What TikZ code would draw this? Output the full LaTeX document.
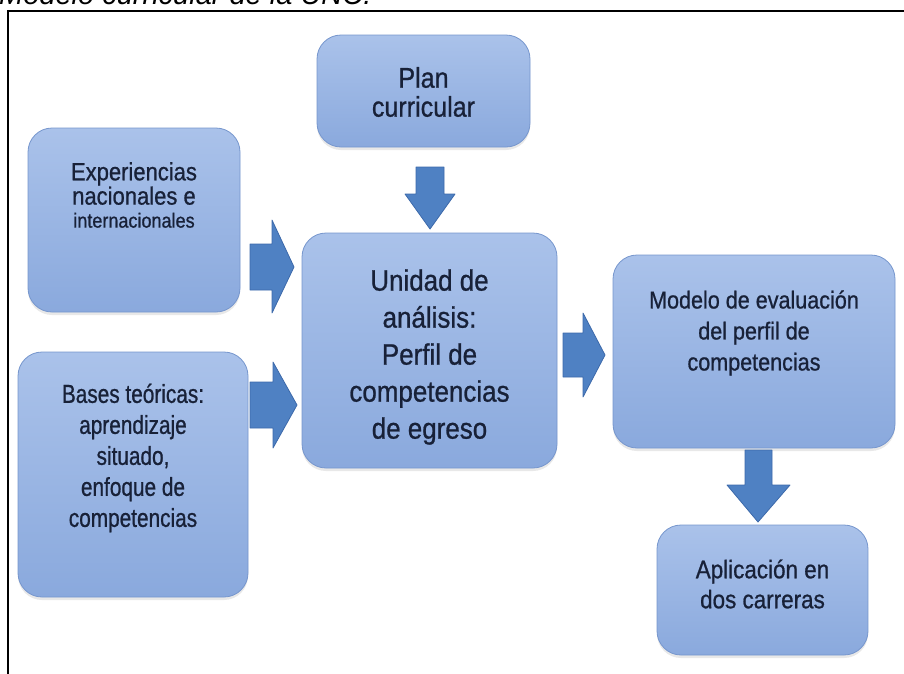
\documentclass[tikz,border=0pt]{standalone}
\usepackage{fontspec}
\setmainfont{Liberation Sans}[FakeStretch=0.88,FakeBold=0.8]
\newfontfamily\narrowfont{Liberation Sans}[FakeStretch=0.8,FakeBold=0.8]
\newfontfamily\capfont{Liberation Sans}
\usetikzlibrary{shadows}

\definecolor{boxtop}{RGB}{170,194,234}
\definecolor{boxbot}{RGB}{138,169,221}
\definecolor{boxedge}{RGB}{118,150,205}
\definecolor{arrowfill}{RGB}{79,129,195}
\definecolor{arrowedge}{RGB}{60,105,170}
\definecolor{txtcol}{RGB}{24,33,56}

\begin{document}
\begin{tikzpicture}[x=1pt,y=-1pt,
    box/.style={draw=boxedge,line width=0.8pt,rounded corners=24pt,
      top color=boxtop,bottom color=boxbot,
      drop shadow={shadow xshift=0pt,shadow yshift=-3pt,opacity=0.18,fill=gray}},
    lbl/.style={align=center,text=txtcol,inner sep=0pt},
    barrow/.style={fill=arrowfill,draw=arrowedge,line width=0.8pt,line join=round}]
        \useasboundingbox (0,0) rectangle (904,673);
        \clip (0,0) rectangle (904,673);

        % caption, cut at the top
        \node[anchor=base west,inner sep=0pt,font=\capfont\itshape\fontsize{29}{30}\selectfont] (titulo) at (-1,4) {Modelo curricular de la UNC.};
        \draw[line width=2pt] (8,690) -- (8,11) -- (920,11);

        % boxes
        \node[box,minimum width=213pt,minimum height=112pt] (plan) at (423.5,91) {};
        \node[box,minimum width=212pt,minimum height=184pt] (exp) at (134,220) {};
        \node[box,minimum width=230pt,minimum height=245pt] (bases) at (133,474.5) {};
        \node[box,minimum width=255pt,minimum height=235pt] (unidad) at (429.5,350.5) {};
        \node[box,minimum width=282pt,minimum height=193pt] (modelo) at (754,351.5) {};
        \node[box,minimum width=211pt,minimum height=130pt] (aplic) at (762.5,590) {};

        % texts
        \node[lbl,font=\fontsize{28.5}{29}\selectfont] (plantxt) at (423.5,92) {Plan\\curricular};
        \node[lbl,font=\fontsize{25}{23}\selectfont] (exptxt) at (134,195) {Experiencias\\nacionales e\\{\fontsize{20.5}{21}\selectfont internacionales}};
        \node[lbl,font=\narrowfont\fontsize{26}{31}\selectfont] (basestxt) at (133,458) {Bases teóricas:\\aprendizaje\\situado,\\enfoque de\\competencias};
        \node[lbl,font=\fontsize{29.5}{37}\selectfont] (unidadtxt) at (429.5,357) {Unidad de\\análisis:\\Perfil de\\competencias\\de egreso};
        \node[lbl,font=\fontsize{24.5}{31}\selectfont] (modelotxt) at (754,333) {Modelo de evaluación\\del perfil de\\competencias};
        \node[lbl,font=\fontsize{25.5}{30}\selectfont] (aplictxt) at (762.5,584) {Aplicación en\\dos carreras};

        % block arrows
        \draw[barrow] (416,167) -- (444,167) -- (444,194) -- (455,194) -- (430,229) -- (405,194) -- (416,194) -- cycle;
        \draw[barrow] (250,244) -- (272,244) -- (272,220) -- (294,267) -- (272,313) -- (272,290) -- (250,290) -- cycle;
        \draw[barrow] (250,382) -- (273,382) -- (273,362) -- (297,405) -- (273,448) -- (273,428) -- (250,428) -- cycle;
        \draw[barrow] (563,333) -- (583,333) -- (583,313) -- (605,355) -- (583,397) -- (583,377) -- (563,377) -- cycle;
        \draw[barrow] (745,450) -- (772,450) -- (772,485) -- (790,485) -- (758,522) -- (727,485) -- (745,485) -- cycle;
\end{tikzpicture}
\end{document}
